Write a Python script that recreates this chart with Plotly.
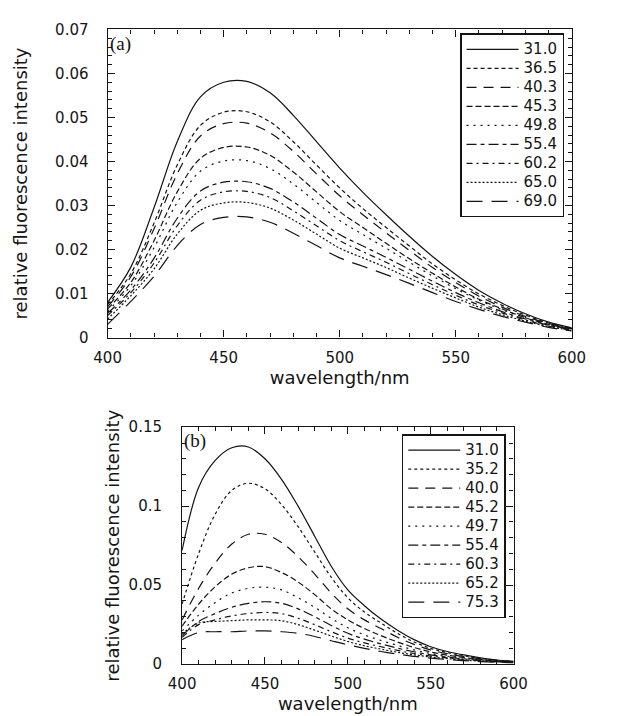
import plotly.graph_objects as go

# ---------------- data ----------------
wavelength = [400, 410, 420, 430, 440, 450, 460, 470, 480, 490, 500,
              510, 520, 530, 540, 550, 560, 570, 580, 590, 600]

# panel (a) – temperatures (legend labels)
labels_a = ["31.0", "36.5", "40.3", "45.3", "49.8", "55.4", "60.2", "65.0", "69.0"]
a_31_0 = [0.0080, 0.0160, 0.0295, 0.0445, 0.0547, 0.0580, 0.0582, 0.0556, 0.0505, 0.0445, 0.0385,
          0.0330, 0.0279, 0.0230, 0.0184, 0.0143, 0.0107, 0.0078, 0.0054, 0.0035, 0.0022]
a_36_5 = [0.0075, 0.0145, 0.0260, 0.0392, 0.0482, 0.0512, 0.0513, 0.0490, 0.0445, 0.0392, 0.0340,
          0.0293, 0.0250, 0.0208, 0.0167, 0.0131, 0.0099, 0.0073, 0.0051, 0.0033, 0.0021]
a_40_3 = [0.0070, 0.0138, 0.0247, 0.0372, 0.0458, 0.0486, 0.0487, 0.0465, 0.0423, 0.0372, 0.0322,
          0.0279, 0.0238, 0.0198, 0.0159, 0.0125, 0.0094, 0.0069, 0.0048, 0.0032, 0.0020]
a_45_3 = [0.0065, 0.0125, 0.0220, 0.0331, 0.0407, 0.0432, 0.0433, 0.0414, 0.0376, 0.0331, 0.0286,
          0.0250, 0.0214, 0.0179, 0.0146, 0.0115, 0.0087, 0.0065, 0.0045, 0.0030, 0.0019]
a_49_8 = [0.0060, 0.0118, 0.0204, 0.0307, 0.0378, 0.0401, 0.0402, 0.0384, 0.0349, 0.0307, 0.0266,
          0.0234, 0.0203, 0.0171, 0.0140, 0.0111, 0.0085, 0.0063, 0.0045, 0.0030, 0.0019]
a_55_4 = [0.0055, 0.0108, 0.0180, 0.0271, 0.0333, 0.0353, 0.0354, 0.0339, 0.0308, 0.0271, 0.0234,
          0.0208, 0.0182, 0.0155, 0.0128, 0.0102, 0.0079, 0.0059, 0.0042, 0.0028, 0.0018]
a_60_2 = [0.0050, 0.0102, 0.0169, 0.0254, 0.0312, 0.0331, 0.0332, 0.0318, 0.0288, 0.0254, 0.0220,
          0.0195, 0.0171, 0.0145, 0.0120, 0.0096, 0.0074, 0.0056, 0.0040, 0.0026, 0.0017]
a_65_0 = [0.0042, 0.0095, 0.0156, 0.0235, 0.0289, 0.0306, 0.0307, 0.0294, 0.0267, 0.0235, 0.0203,
          0.0181, 0.0159, 0.0135, 0.0112, 0.0090, 0.0069, 0.0052, 0.0037, 0.0025, 0.0016]
a_69_0 = [0.0030, 0.0082, 0.0139, 0.0209, 0.0257, 0.0273, 0.0274, 0.0262, 0.0237, 0.0209, 0.0181,
          0.0162, 0.0143, 0.0123, 0.0102, 0.0082, 0.0064, 0.0048, 0.0035, 0.0023, 0.0015]
series_a = [a_31_0, a_36_5, a_40_3, a_45_3, a_49_8, a_55_4, a_60_2, a_65_0, a_69_0]

# panel (b)
labels_b = ["31.0", "35.2", "40.0", "45.2", "49.7", "55.4", "60.3", "65.2", "75.3"]
b_31_0 = [0.0720, 0.1120, 0.1290, 0.1370, 0.1375, 0.1300, 0.1170, 0.1000, 0.0810, 0.0620, 0.0470,
          0.0370, 0.0285, 0.0215, 0.0155, 0.0110, 0.0080, 0.0058, 0.0040, 0.0026, 0.0018]
b_35_2 = [0.0380, 0.0700, 0.0950, 0.1100, 0.1145, 0.1110, 0.1010, 0.0870, 0.0710, 0.0550, 0.0420,
          0.0330, 0.0260, 0.0195, 0.0140, 0.0100, 0.0073, 0.0053, 0.0037, 0.0024, 0.0017]
b_40_0 = [0.0280, 0.0480, 0.0640, 0.0760, 0.0822, 0.0822, 0.0770, 0.0680, 0.0570, 0.0450, 0.0350,
          0.0280, 0.0225, 0.0170, 0.0125, 0.0090, 0.0066, 0.0048, 0.0034, 0.0023, 0.0016]
b_45_2 = [0.0240, 0.0380, 0.0490, 0.0570, 0.0610, 0.0617, 0.0580, 0.0520, 0.0440, 0.0350, 0.0280,
          0.0225, 0.0180, 0.0140, 0.0105, 0.0077, 0.0057, 0.0042, 0.0030, 0.0021, 0.0015]
b_49_7 = [0.0210, 0.0310, 0.0390, 0.0450, 0.0480, 0.0487, 0.0470, 0.0420, 0.0360, 0.0290, 0.0230,
          0.0185, 0.0150, 0.0118, 0.0090, 0.0067, 0.0050, 0.0037, 0.0027, 0.0019, 0.0014]
b_55_4 = [0.0180, 0.0270, 0.0320, 0.0360, 0.0385, 0.0395, 0.0385, 0.0350, 0.0300, 0.0245, 0.0195,
          0.0158, 0.0128, 0.0101, 0.0078, 0.0058, 0.0044, 0.0033, 0.0024, 0.0017, 0.0013]
b_60_3 = [0.0170, 0.0250, 0.0280, 0.0305, 0.0320, 0.0327, 0.0320, 0.0290, 0.0250, 0.0205, 0.0165,
          0.0134, 0.0110, 0.0087, 0.0067, 0.0051, 0.0039, 0.0029, 0.0021, 0.0015, 0.0012]
b_65_2 = [0.0190, 0.0260, 0.0270, 0.0275, 0.0280, 0.0280, 0.0275, 0.0250, 0.0215, 0.0178, 0.0143,
          0.0116, 0.0095, 0.0075, 0.0058, 0.0045, 0.0035, 0.0026, 0.0019, 0.0014, 0.0011]
b_75_3 = [0.0155, 0.0200, 0.0205, 0.0205, 0.0210, 0.0210, 0.0205, 0.0195, 0.0175, 0.0148, 0.0122,
          0.0100, 0.0080, 0.0063, 0.0049, 0.0038, 0.0029, 0.0022, 0.0016, 0.0012, 0.0009]
series_b = [b_31_0, b_35_2, b_40_0, b_45_2, b_49_7, b_55_4, b_60_3, b_65_2, b_75_3]

# ---------------- styles ----------------
dashes = ["solid", "4px,3px", "10px,7px", "6px,3px", "2px,5px",
          "10px,4px,4px,4px", "6px,4px,2px,4px", "2px,2px", "16px,9px"]
dashes_b = ["solid", "3px,3px", "10px,7px", "6px,3px", "2px,5px",
            "10px,4px,4px,4px", "6px,4px,2px,4px", "2px,2px", "16px,9px"]
INK = "#141414"
W, H = 624, 716
SANS = "DejaVu Sans"


def legend_name(lab):
    # larger rendered text while keeping compact legend row spacing
    return f"<span style='font-size:15px'>{lab}</span>"


fig = go.Figure()
for lab, ys, d in zip(labels_a, series_a, dashes):
    fig.add_trace(go.Scatter(x=wavelength, y=ys, name=legend_name(lab), mode="lines",
                             line=dict(color=INK, width=1.2, dash=d, shape="spline", smoothing=1.0),
                             xaxis="x", yaxis="y", legend="legend"))
for lab, ys, d in zip(labels_b, series_b, dashes_b):
    fig.add_trace(go.Scatter(x=wavelength, y=ys, name=legend_name(lab), mode="lines",
                             line=dict(color=INK, width=1.2, dash=d, shape="spline", smoothing=1.0),
                             xaxis="x2", yaxis="y2", legend="legend2"))


def ax(**kw):
    base = dict(showline=True, linecolor=INK, linewidth=1.2, mirror="allticks",
                ticks="inside", ticklen=7, tickwidth=1, tickcolor=INK,
                showgrid=False, zeroline=False, fixedrange=True,
                tickfont=dict(family=SANS, size=15, color=INK))
    base.update(kw)
    return base


# pixel-derived domains
ax_a = [98 / W, 584 / W]
ay_a = [1 - 337 / H, 1 - 21 / H]
ax_b = [176 / W, 523 / W]
ay_b = [1 - 672 / H, 1 - 429 / H]

legend_common = dict(xanchor="left", yanchor="top", bgcolor="white",
                     bordercolor=INK, borderwidth=1.5, itemwidth=52,
                     font=dict(family=SANS, size=12, color=INK), tracegroupgap=0)

fig.update_layout(
    width=W, height=H, margin=dict(l=0, r=0, t=0, b=0),
    paper_bgcolor="white", plot_bgcolor="white",
    xaxis=ax(domain=ax_a, anchor="y", range=[400, 600], dtick=50, tick0=400,
             minor=dict(dtick=10, ticks="inside", ticklen=4, tickcolor=INK),
             ticklabelstandoff=6,
             title=dict(text="wavelength/nm", font=dict(family=SANS, size=18, color=INK), standoff=4)),
    yaxis=ax(domain=ay_a, anchor="x", range=[0, 0.07], dtick=0.01, tick0=0,
             minor=dict(dtick=0.002, ticks="inside", ticklen=4, tickcolor=INK),
             ticklabelstandoff=15,
             title=dict(text="relative fluorescence intensity", font=dict(family=SANS, size=18, color=INK), standoff=22)),
    xaxis2=ax(domain=ax_b, anchor="y2", range=[400, 600], dtick=50, tick0=400,
              minor=dict(dtick=10, ticks="inside", ticklen=4, tickcolor=INK),
              ticklabelstandoff=6,
              title=dict(text="wavelength/nm", font=dict(family=SANS, size=18, color=INK), standoff=3)),
    yaxis2=ax(domain=ay_b, anchor="x2", range=[0, 0.15], dtick=0.05, tick0=0,
              minor=dict(dtick=0.01, ticks="inside", ticklen=4, tickcolor=INK),
              ticklabelstandoff=16,
              title=dict(text="relative fluorescence intensity", font=dict(family=SANS, size=18, color=INK), standoff=4)),
    legend=dict(x=467 / W, y=1 - 25 / H, **legend_common),
    legend2=dict(x=406 / W, y=1 - 436 / H, **legend_common),
    annotations=[
        dict(text="(a)", xref="x domain", yref="y domain", x=0.0, y=0.995,
             xanchor="left", yanchor="top", showarrow=False,
             font=dict(family="Liberation Serif", size=19, color=INK)),
        dict(text="(b)", xref="x2 domain", yref="y2 domain", x=0.0, y=0.995,
             xanchor="left", yanchor="top", showarrow=False,
             font=dict(family="Liberation Serif", size=19, color=INK)),
    ],
)

fig.write_html("out.html")
